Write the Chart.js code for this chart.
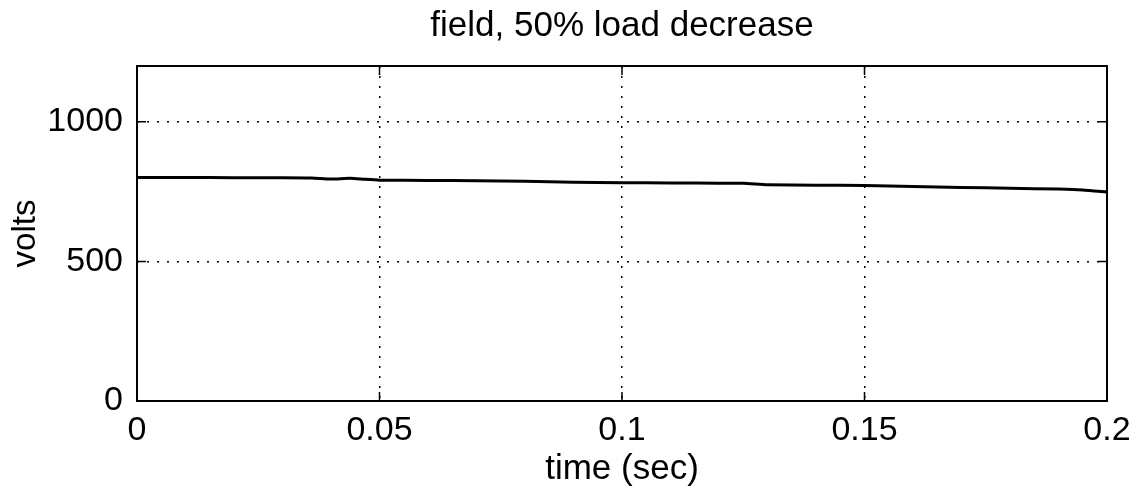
<!DOCTYPE html>
<html>
<head>
<meta charset="utf-8">
<script src="https://cdn.jsdelivr.net/npm/chart.js@4/dist/chart.umd.min.js"></script>
<style>
  html, body { margin: 0; padding: 0; background: #fff; }
  #wrap { width: 1144px; height: 496px; }
</style>
</head>
<body>
<div id="wrap"><canvas id="fieldChart"></canvas></div>
<script>
// time (sec) and field voltage
const timeValues = [0, 0.01, 0.02, 0.03, 0.036, 0.04, 0.044, 0.047, 0.05, 0.06, 0.07, 0.08, 0.09, 0.1,
    0.11, 0.12, 0.125, 0.13, 0.14, 0.15, 0.16, 0.17, 0.18, 0.19, 0.195, 0.2];
const voltValues = [801, 801, 800, 800, 799, 795, 798, 794, 791, 790, 789, 787, 784, 782,
    781, 780, 780, 775, 773, 772, 768, 765, 762, 759, 756, 749];
const xTicks = [0, 0.05, 0.1, 0.15, 0.2];
const yTicks = [0, 500, 1000];

const FONT = "'Liberation Sans', Arial, sans-serif";

// frame around the plot area plus short inward tick marks
const framePlugin = {
    id: 'frame',
    afterDraw(chart) {
        const { ctx, chartArea: a, scales } = chart;
        ctx.save();
        ctx.strokeStyle = '#000';
        ctx.lineWidth = 2;
        ctx.strokeRect(a.left, a.top, a.right - a.left, a.bottom - a.top);
        ctx.lineWidth = 1.5;
        xTicks.forEach(v => {
            const px = scales.x.getPixelForValue(v);
            ctx.beginPath();
            ctx.moveTo(px, a.bottom); ctx.lineTo(px, a.bottom - 9);
            ctx.moveTo(px, a.top); ctx.lineTo(px, a.top + 9);
            ctx.stroke();
        });
        yTicks.forEach(v => {
            const py = scales.y.getPixelForValue(v);
            ctx.beginPath();
            ctx.moveTo(a.left, py); ctx.lineTo(a.left + 9, py);
            ctx.moveTo(a.right, py); ctx.lineTo(a.right - 9, py);
            ctx.stroke();
        });
        ctx.restore();
    }
};

const innerGrid = (ctx) => {
    const v = ctx.tick ? ctx.tick.value : null;
    return (v === 0 || v === 0.2 || v === 1200) ? 'rgba(0,0,0,0)' : '#000';
};

new Chart(document.getElementById('fieldChart'), {
    type: 'line',
    data: {
        datasets: [{
            data: timeValues.map((t, i) => ({ x: t, y: voltValues[i] })),
            borderColor: '#000',
            borderWidth: 3,
            pointRadius: 0,
            tension: 0.2,
            fill: false
        }]
    },
    options: {
        responsive: true,
        maintainAspectRatio: false,
        animation: false,
        layout: { padding: { right: 37, left: 0, bottom: 0 } },
        plugins: {
            legend: { display: false },
            tooltip: { enabled: false },
            title: {
                display: true,
                fullSize: false,
                text: 'field, 50% load decrease',
                color: '#000',
                font: { family: FONT, size: 35, weight: 'normal' },
                padding: { top: 5, bottom: 19 }
            }
        },
        scales: {
            x: {
                type: 'linear',
                min: 0,
                max: 0.2,
                afterFit(scale) { scale.height = 95; },
                afterBuildTicks(scale) { scale.ticks = xTicks.map(v => ({ value: v })); },
                grid: { color: innerGrid, lineWidth: 1.5, drawTicks: false },
                border: { display: false, dash: [2, 8] },
                ticks: {
                    color: '#000',
                    padding: 9,
                    maxRotation: 0,
                    font: { family: FONT, size: 34 },
                    callback: v => String(v)
                },
                title: {
                    display: true,
                    text: 'time (sec)',
                    color: '#000',
                    font: { family: FONT, size: 35 },
                    padding: { top: 0, bottom: 6 }
                }
            },
            y: {
                min: 0,
                max: 1200,
                afterFit(scale) { scale.width = 137; },
                afterBuildTicks(scale) { scale.ticks = yTicks.map(v => ({ value: v })); },
                grid: { color: innerGrid, lineWidth: 1.5, drawTicks: false },
                border: { display: false, dash: [2, 8] },
                ticks: {
                    color: '#000',
                    padding: 14,
                    font: { family: FONT, size: 34 },
                    callback: v => String(v)
                },
                title: {
                    display: true,
                    text: 'volts',
                    color: '#000',
                    font: { family: FONT, size: 33 },
                    padding: { top: 6, bottom: 4 }
                }
            }
        }
    },
    plugins: [framePlugin]
});
</script>
</body>
</html>
